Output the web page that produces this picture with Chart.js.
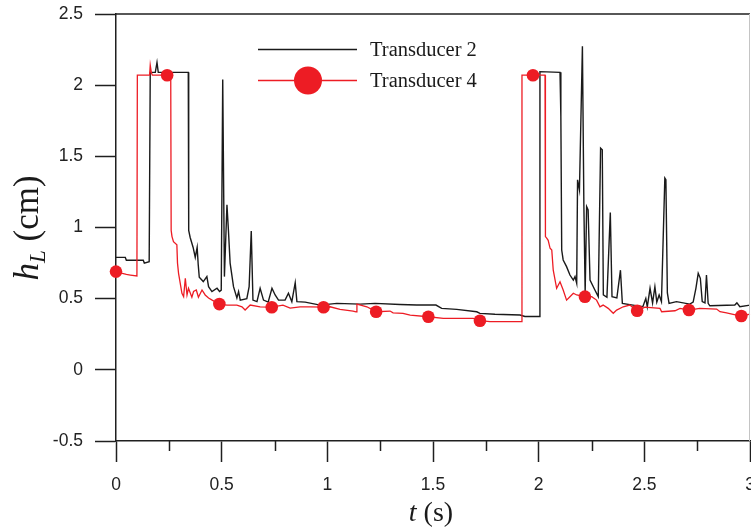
<!DOCTYPE html>
<html>
<head>
<meta charset="utf-8">
<script src="https://cdn.jsdelivr.net/npm/chart.js@4.4.1/dist/chart.umd.min.js"></script>
<style>
  html, body { margin: 0; padding: 0; background: #ffffff; }
  #wrap { width: 751px; height: 530px; position: relative; }
</style>
</head>
<body>
<div id="wrap"><canvas id="c" width="751" height="530"></canvas></div>
<script>
// ---- Data ----
const seriesNames = ['Transducer 2', 'Transducer 4'];

// Transducer 2 (black)
const t2Time = [0.00, 0.044, 0.049, 0.129, 0.134, 0.157, 0.162, 0.186, 0.194, 0.200, 0.342, 0.344, 0.351, 0.365, 0.375, 0.384, 0.389, 0.394, 0.413, 0.430, 0.438, 0.454, 0.478, 0.490, 0.498, 0.505, 0.513, 0.525, 0.532, 0.540, 0.556, 0.572, 0.580, 0.588, 0.619, 0.630, 0.640, 0.648, 0.667, 0.682, 0.698, 0.720, 0.738, 0.753, 0.769, 0.800, 0.816, 0.832, 0.848, 0.856, 0.895, 0.966, 1.045, 1.155, 1.226, 1.344, 1.423, 1.514, 1.541, 1.612, 1.707, 1.722, 1.793, 1.912, 1.935, 2.004, 2.006, 2.101, 2.105, 2.109, 2.116, 2.132, 2.148, 2.164, 2.172, 2.180, 2.184, 2.193, 2.207, 2.214, 2.220, 2.227, 2.234, 2.243, 2.266, 2.282, 2.293, 2.301, 2.306, 2.323, 2.339, 2.347, 2.370, 2.387, 2.396, 2.446, 2.493, 2.507, 2.514, 2.527, 2.539, 2.550, 2.559, 2.570, 2.581, 2.597, 2.602, 2.609, 2.617, 2.652, 2.715, 2.731, 2.744, 2.755, 2.765, 2.774, 2.787, 2.794, 2.802, 2.810, 2.928, 2.938, 2.952, 3.000];
const t2Level = [0.79, 0.79, 0.77, 0.77, 0.75, 0.76, 2.09, 2.09, 2.16, 2.09, 2.09, 0.98, 0.93, 0.86, 0.79, 0.86, 0.74, 0.65, 0.62, 0.655, 0.584, 0.55, 0.573, 0.55, 0.56, 2.04, 0.655, 1.16, 0.98, 0.75, 0.584, 0.505, 0.55, 0.49, 0.50, 0.584, 0.976, 0.49, 0.479, 0.573, 0.49, 0.476, 0.573, 0.526, 0.49, 0.49, 0.538, 0.479, 0.612, 0.479, 0.476, 0.455, 0.467, 0.462, 0.467, 0.459, 0.455, 0.455, 0.432, 0.425, 0.408, 0.397, 0.39, 0.385, 0.375, 0.375, 2.095, 2.09, 1.78, 0.842, 0.772, 0.725, 0.666, 0.631, 0.655, 0.608, 1.335, 1.264, 2.273, 1.145, 0.54, 1.147, 1.124, 0.631, 0.561, 0.514, 1.558, 1.546, 0.526, 0.51, 1.105, 0.514, 0.505, 0.70, 0.467, 0.455, 0.443, 0.502, 0.443, 0.573, 0.47, 0.584, 0.476, 0.526, 0.479, 1.347, 1.335, 0.54, 0.467, 0.479, 0.462, 0.476, 0.573, 0.678, 0.643, 0.479, 0.47, 0.666, 0.467, 0.45, 0.455, 0.47, 0.443, 0.455];

// Transducer 4 (red)
const t4Time = [0.000, 0.025, 0.049, 0.068, 0.099, 0.101, 0.159, 0.162, 0.167, 0.172, 0.242, 0.259, 0.261, 0.265, 0.272, 0.288, 0.291, 0.296, 0.312, 0.320, 0.328, 0.336, 0.343, 0.359, 0.367, 0.380, 0.390, 0.407, 0.422, 0.438, 0.455, 0.489, 0.525, 0.572, 0.596, 0.611, 0.635, 0.682, 0.737, 0.790, 0.824, 0.871, 0.919, 0.982, 1.013, 1.060, 1.122, 1.136, 1.140, 1.187, 1.217, 1.231, 1.297, 1.311, 1.358, 1.392, 1.478, 1.549, 1.690, 1.722, 1.770, 1.920, 1.921, 1.973, 2.030, 2.032, 2.038, 2.045, 2.054, 2.062, 2.069, 2.085, 2.101, 2.116, 2.132, 2.148, 2.164, 2.180, 2.219, 2.251, 2.274, 2.290, 2.305, 2.329, 2.353, 2.369, 2.400, 2.431, 2.466, 2.503, 2.574, 2.582, 2.645, 2.669, 2.711, 2.762, 2.842, 2.858, 2.889, 2.936, 2.959, 3.000];
const t4Level = [0.69, 0.68, 0.67, 0.666, 0.66, 2.07, 2.07, 2.14, 2.09, 2.07, 2.07, 2.07, 0.98, 0.936, 0.90, 0.878, 0.75, 0.678, 0.538, 0.514, 0.643, 0.526, 0.573, 0.51, 0.55, 0.561, 0.51, 0.561, 0.526, 0.505, 0.49, 0.462, 0.455, 0.455, 0.443, 0.42, 0.455, 0.443, 0.44, 0.455, 0.434, 0.443, 0.443, 0.44, 0.443, 0.425, 0.413, 0.408, 0.462, 0.443, 0.42, 0.408, 0.413, 0.40, 0.397, 0.385, 0.373, 0.362, 0.362, 0.345, 0.338, 0.338, 2.07, 2.07, 2.07, 0.936, 0.925, 0.91, 0.854, 0.842, 0.70, 0.573, 0.619, 0.561, 0.49, 0.514, 0.538, 0.526, 0.514, 0.514, 0.49, 0.443, 0.455, 0.432, 0.397, 0.42, 0.443, 0.455, 0.415, 0.44, 0.432, 0.408, 0.415, 0.432, 0.42, 0.432, 0.427, 0.408, 0.40, 0.385, 0.378, 0.392];
// times at which the red series carries a circle marker
const t4MarkerTime = [0.000, 0.242, 0.489, 0.737, 0.982, 1.231, 1.478, 1.722, 1.973, 2.219, 2.466, 2.711, 2.959];

// Axis ticks
const xMajorTicks = [0, 0.5, 1, 1.5, 2, 2.5, 3];
const xMinorTicks = [0.25, 0.75, 1.25, 1.75, 2.25, 2.75];
const yTicks = [-0.5, 0, 0.5, 1, 1.5, 2, 2.5];

const AXIS = '#1f1f1f';
const RED = '#ED1C24';

function pairs(xs, ys) { return xs.map((x, i) => ({ x: x, y: ys[i] })); }

// Line controller that does not reserve extra layout room for point markers
class PlainLine extends Chart.LineController {
  getMaxOverflow() { return 0; }
}
PlainLine.id = 'plainLine';
PlainLine.defaults = Chart.LineController.defaults;
PlainLine.overrides = Chart.LineController.overrides;
Chart.register(PlainLine);

const framePlugin = {
  id: 'frame',
  afterDraw(chart) {
    const ctx = chart.ctx, a = chart.chartArea, xs = chart.scales.x;
    ctx.save();
    // minor ticks on the x axis
    ctx.strokeStyle = AXIS; ctx.lineWidth = 1.5;
    xMinorTicks.forEach(v => {
      const px = Math.round(xs.getPixelForValue(v)) + 0.5;
      ctx.beginPath(); ctx.moveTo(px, a.bottom); ctx.lineTo(px, a.bottom + 10); ctx.stroke();
    });
    // top border
    ctx.beginPath(); ctx.moveTo(a.left, a.top); ctx.lineTo(a.right, a.top); ctx.stroke();
    // right border (light)
    ctx.strokeStyle = '#c4c4c4'; ctx.lineWidth = 1;
    ctx.beginPath(); ctx.moveTo(a.right - 0.5, a.top); ctx.lineTo(a.right - 0.5, a.bottom); ctx.stroke();

    // legend
    const lx0 = 258, lx1 = 357;
    ctx.lineWidth = 1.5;
    ctx.strokeStyle = '#1a1a1a';
    ctx.beginPath(); ctx.moveTo(lx0, 49.5); ctx.lineTo(lx1, 49.5); ctx.stroke();
    ctx.strokeStyle = RED;
    ctx.beginPath(); ctx.moveTo(lx0, 80.5); ctx.lineTo(lx1, 80.5); ctx.stroke();
    ctx.fillStyle = RED;
    ctx.beginPath(); ctx.arc(308, 80.5, 14, 0, Math.PI * 2); ctx.fill();
    ctx.fillStyle = '#1a1a1a';
    ctx.font = '20.5px "Liberation Serif", "Times New Roman", serif';
    ctx.textBaseline = 'alphabetic'; ctx.textAlign = 'left';
    ctx.fillText(seriesNames[0], 370, 56);
    ctx.fillText(seriesNames[1], 370, 86.5);

    // x axis title: t (s)
    const cx = 431;
    ctx.font = 'italic 28px "Liberation Serif", serif';
    const wT = ctx.measureText('t').width;
    ctx.font = '28px "Liberation Serif", serif';
    const wS = ctx.measureText(' (s)').width;
    let sx = cx - (wT + wS) / 2;
    ctx.font = 'italic 28px "Liberation Serif", serif';
    ctx.fillText('t', sx, 521);
    ctx.font = '28px "Liberation Serif", serif';
    ctx.fillText(' (s)', sx + wT, 521);

    // y axis title: h_L (cm)
    ctx.translate(38, 228);
    ctx.rotate(-Math.PI / 2);
    ctx.font = 'italic 35px "Liberation Serif", serif';
    const wh = ctx.measureText('h').width;
    ctx.font = 'italic 23px "Liberation Serif", serif';
    const wL = ctx.measureText('L').width;
    ctx.font = '35px "Liberation Serif", serif';
    const wc = ctx.measureText(' (cm)').width;
    let yx = -(wh + wL + wc) / 2;
    ctx.font = 'italic 35px "Liberation Serif", serif';
    ctx.fillText('h', yx, 0);
    ctx.font = 'italic 23px "Liberation Serif", serif';
    ctx.fillText('L', yx + wh, 7);
    ctx.font = '35px "Liberation Serif", serif';
    ctx.fillText(' (cm)', yx + wh + wL, 0);
    ctx.restore();
  }
};

new Chart(document.getElementById('c'), {
  type: 'plainLine',
  data: {
    datasets: [
      {
        label: seriesNames[1],
        data: pairs(t4Time, t4Level),
        borderColor: RED,
        backgroundColor: RED,
        borderWidth: 1.3,
        tension: 0,
        clip: false,
        pointRadius: ctx => (ctx.raw && t4MarkerTime.includes(ctx.raw.x)) ? 6.3 : 0,
        pointBorderWidth: 0,
        pointHoverRadius: 0,
        order: 0
      },
      {
        label: seriesNames[0],
        data: pairs(t2Time, t2Level),
        borderColor: '#1a1a1a',
        borderWidth: 1.4,
        tension: 0,
        clip: false,
        pointRadius: 0,
        pointHoverRadius: 0,
        order: 1
      }
    ]
  },
  options: {
    responsive: false,
    animation: false,
    events: [],
    layout: { padding: { top: 14, right: 1, left: 0, bottom: 0 } },
    plugins: { legend: { display: false }, tooltip: { enabled: false }, title: { display: false } },
    scales: {
      x: {
        type: 'linear',
        min: 0, max: 3,
        afterBuildTicks: s => { s.ticks = xMajorTicks.map(v => ({ value: v })); },
        afterFit: s => { s.height = 89; s.paddingLeft = 0; s.paddingRight = 0; },
        ticks: {
          autoSkip: false, maxRotation: 0, padding: 13, color: '#222',
          font: { family: '"Liberation Sans", Arial, sans-serif', size: 17.5 },
          callback: v => String(v)
        },
        grid: { drawOnChartArea: false, drawTicks: true, tickLength: 21, tickColor: AXIS, tickWidth: 1.5 },
        border: { display: true, color: AXIS, width: 1.5 }
      },
      y: {
        type: 'linear',
        min: -0.5, max: 2.5,
        afterBuildTicks: s => { s.ticks = yTicks.map(v => ({ value: v })); },
        afterFit: s => { s.width = 116; s.paddingTop = 0; s.paddingBottom = 0; },
        ticks: {
          autoSkip: false, padding: 12, color: '#222',
          font: { family: '"Liberation Sans", Arial, sans-serif', size: 17.5 },
          callback: v => String(v)
        },
        grid: { drawOnChartArea: false, drawTicks: true, tickLength: 21, tickColor: AXIS, tickWidth: 1.5 },
        border: { display: true, color: AXIS, width: 1.5 }
      }
    }
  },
  plugins: [framePlugin]
});
</script>
</body>
</html>
